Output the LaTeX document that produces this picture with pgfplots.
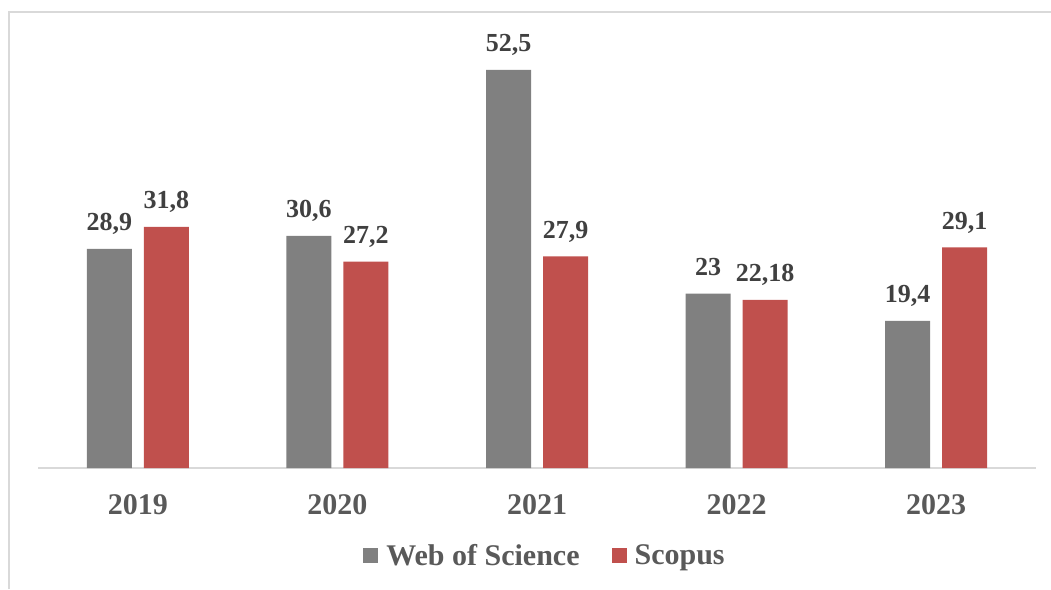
\documentclass[border=0pt]{standalone}
\usepackage{pgfplots}
\pgfplotsset{compat=1.18}
\usepackage{fontspec}
\setmainfont{Liberation Serif}
\definecolor{wos}{HTML}{808080}
\definecolor{sco}{HTML}{C0504D}
\definecolor{lbl}{HTML}{404040}
\definecolor{tck}{HTML}{595959}
\definecolor{brd}{HTML}{D9D9D9}
\begin{document}
\begin{tikzpicture}[x=1pt,y=1pt]
\useasboundingbox (0,0) rectangle (1051,-589);
\draw[brd, line width=2pt] (9,-589) -- (9,-12) -- (1051,-12);
\begin{axis}[
  at={(38pt,-468pt)}, anchor=south west,
  scale only axis, width=998pt, height=455pt,
  xmin=-0.5, xmax=4.5, ymin=0, ymax=60,
  ybar=12pt, bar width=45pt,
  axis y line=none, axis x line*=bottom,
  x axis line style={draw=brd, line width=1.2pt, -},
  xtick=data, xticklabels={2019,2020,2021,2022,2023},
  major tick length=0pt,
  xticklabel style={font=\fontsize{30}{32}\selectfont\bfseries, text=tck, anchor=base, inner sep=0pt, yshift=-46pt},
  clip=false,
  point meta=explicit symbolic,
  nodes near coords,
  nodes near coords style={font=\fontsize{26}{28}\selectfont\bfseries, text=lbl, anchor=base, inner sep=0pt, yshift=18pt},
  legend columns=2,
  legend style={at={(0.508,-0.192)}, anchor=center, draw=none, fill=none,
    font=\fontsize{30}{32}\selectfont\bfseries, text=tck,
    /tikz/every even column/.append style={column sep=30pt}},
  legend image code/.code={\fill[#1] (0pt,-7.5pt) rectangle (15pt,7.5pt);},
  legend cell align=left,
]
\addplot[fill=wos, draw=none] coordinates {(0,28.9) [28,9] (1,30.6) [30,6] (2,52.5) [52,5] (3,23) [23] (4,19.4) [19,4]};
\addplot[fill=sco, draw=none] coordinates {(0,31.8) [31,8] (1,27.2) [27,2] (2,27.9) [27,9] (3,22.18) [22,18] (4,29.1) [29,1]};
\legend{\hspace{6pt}Web of Science, \hspace{6pt}Scopus}
\end{axis}
\end{tikzpicture}
\end{document}
